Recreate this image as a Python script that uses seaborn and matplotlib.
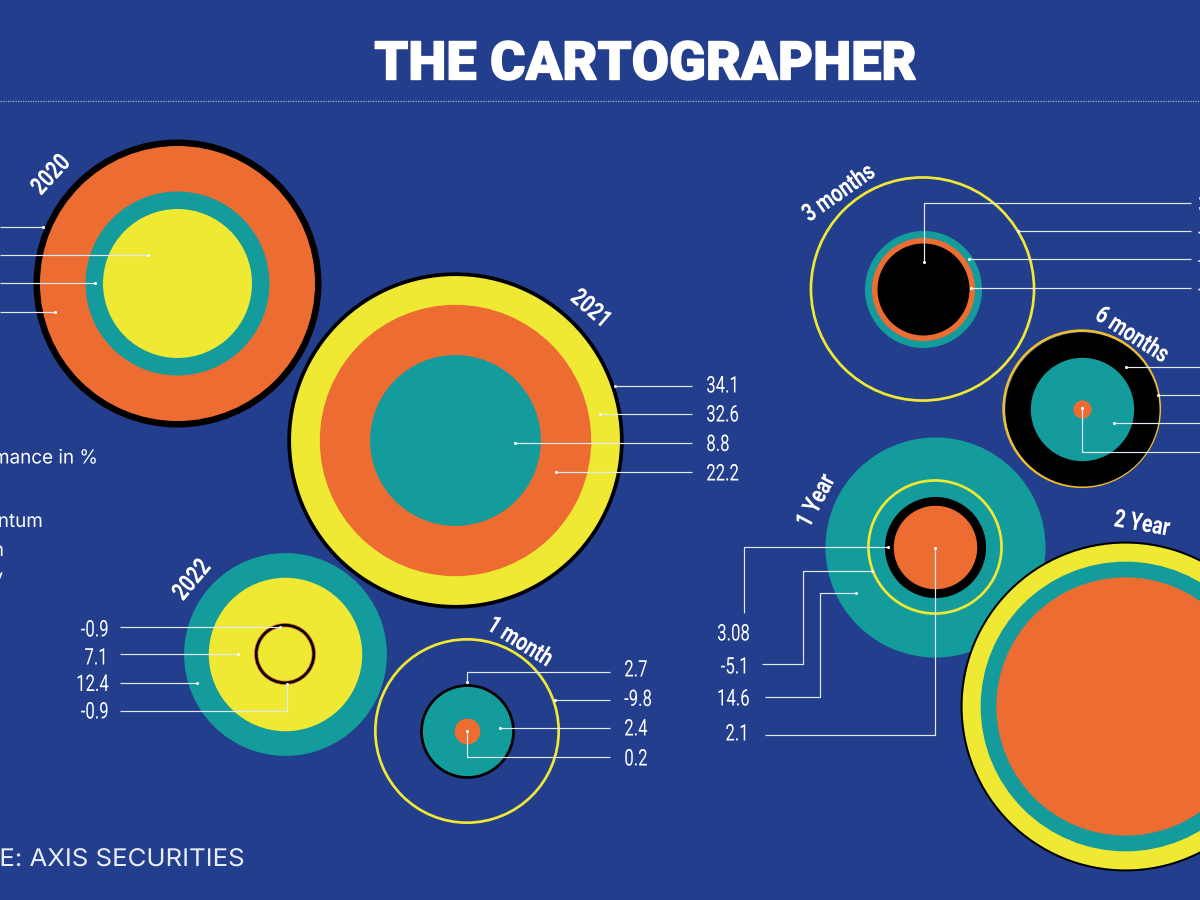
import numpy as np
import pandas as pd
import matplotlib
matplotlib.use("Agg")
import matplotlib.pyplot as plt
import seaborn as sns
from matplotlib.patheffects import AbstractPathEffect
from matplotlib.transforms import Affine2D

# ---- data -----------------------------------------------------------------
panel_names = ["2020", "2021", "2022", "1 month", "3 months", "6 months", "1 Year", "2 Year"]
# order in every list: black, yellow, teal, orange
values_2020 = [25.0, 6.69, 10.2, 22.8]
values_2021 = [34.1, 32.6, 8.8, 22.2]
values_2022 = [-0.9, 7.1, 12.4, -0.9]
values_1m = [2.7, -9.8, 2.4, 0.2]
values_3m = [2.55, -14.6, 4.13, 3.2]
values_6m = [7.15, -7.06, 3.22, 0.1]
values_1y = [3.08, -5.1, 14.6, 2.1]
values_2y = [32.8, 32.0, 25.3, 20.1]
labels_2021 = ["34.1", "32.6", "8.8", "22.2"]
labels_2022 = ["-0.9", "7.1", "12.4", "-0.9"]
labels_1m = ["2.7", "-9.8", "2.4", "0.2"]
labels_1y = ["3.08", "-5.1", "14.6", "2.1"]
labels_3m = ["3.8", "-4.1", "-4.2", "-3.2"]

BG = "#233E8C"
COL = dict(black="#000000", yellow="#EFE934", teal="#149B9B", orange="#EC6C32")
PX = 72 / 100  # points per pixel
K = 28.8  # pixels of radius per sqrt(value)
RING = 1.5  # hollow rings sit slightly outside their value


class Squeeze(AbstractPathEffect):
    """Draw text narrower (or wider) along its own baseline."""

    def __init__(self, factor, anchor="left", stroke=0.0):
        super().__init__()
        self.factor, self.anchor, self.stroke = factor, anchor, stroke

    def draw_path(self, renderer, gc, tpath, affine, rgbFace=None):
        box = tpath.get_extents()
        x0 = {"left": box.x0, "center": (box.x0 + box.x1) / 2, "right": box.x1}[self.anchor]
        pre = Affine2D().translate(-x0, 0).scale(self.factor, 1).translate(x0, 0)
        g = renderer.new_gc()
        g.copy_properties(gc)
        if self.stroke:
            g.set_linewidth(self.stroke)
            g.set_foreground(rgbFace)
        renderer.draw_path(g, tpath, pre + affine, rgbFace)
        g.restore()


sns.set_theme(style="white")

fig = plt.figure(figsize=(12, 9), dpi=100, facecolor=BG)
ax = fig.add_axes([0, 0, 1, 1], facecolor=BG)
ax.set_xlim(0, 1200)
ax.set_ylim(900, 0)
ax.axis("off")


def rings(cx, cy, values, hollow=(), ring_colour=None):
    order = ["orange", "yellow", "teal", "black"]
    df = pd.DataFrame({"v": values, "c": order})
    df = df.assign(r=K * np.sqrt(df.v.abs()) + np.where(df.v < 0, RING, 0))
    df = df.sort_values("r", ascending=False, kind="stable")
    for i, row in enumerate(df.itertuples()):
        s = (2 * row.r * PX) ** 2
        z = 2 + i * 0.1
        if row.c in hollow:
            lw = 4.2 if row.c == "orange" else 2.7
            colour = ring_colour or COL[row.c]
            sns.scatterplot(x=[cx], y=[cy], s=s, facecolor="none", edgecolor=colour,
                            linewidth=lw * PX, ax=ax, zorder=z, legend=False)
        else:
            sns.scatterplot(x=[cx], y=[cy], s=s, color=COL[row.c], linewidth=0,
                            ax=ax, zorder=z, legend=False)


def vals(black, yellow, teal, orange):
    return [orange, yellow, teal, black]


rings(177, 282.5, vals(*values_2020))
rings(455.3, 439.5, vals(*values_2021))
rings(285, 654, vals(*values_2022), hollow=("black", "orange"))
rings(467, 731, vals(*values_1m), hollow=("yellow",))
rings(922.5, 289, vals(*values_3m), hollow=("yellow",))
rings(1081.7, 408.7, vals(*values_6m), hollow=("yellow",), ring_colour="#EDBE2E")
rings(935, 547, vals(*values_1y), hollow=("yellow",))
rings(1125, 706, vals(*values_2y))

# dotted rule
ax.plot([0, 1200], [101, 101], color="#9FB0DA", lw=0.9, ls=(0, (1, 1)), zorder=1)


def leader(xs, ys):
    ax.plot(xs, ys, color="#E3E9F7", lw=0.85, zorder=6, solid_capstyle="butt")
    ax.plot(xs[-1], ys[-1], "o", color="white", ms=2.2, mew=0, zorder=7)


# 2020
for y, x in zip([226.7, 254.5, 283, 311.7], [43, 148, 95, 55]):
    leader([0, x], [y, y])
# 2021
for y, x in zip([386, 414, 443, 472], [615, 600, 515, 556]):
    leader([692, x], [y, y])
# 2022
leader([120, 280], [626.5, 626.5])
leader([120, 238], [654, 654])
leader([120, 197], [682.5, 682.5])
leader([120, 287, 287], [711, 711, 684])
# 1 month
leader([610, 467, 467], [672, 672, 682])
leader([610, 555], [700, 700])
leader([610, 500], [728.3, 728.3])
leader([610, 467, 467], [757, 757, 731])
# 3 months
leader([1191, 924, 924], [203.3, 203.3, 261.7])
leader([1191, 1018], [230.5, 230.5])
leader([1191, 969], [259.3, 259.3])
leader([1191, 971], [288, 288])
# 6 months
leader([1200, 1126], [367.3, 367.3])
leader([1200, 1158], [395, 395])
leader([1200, 1114], [423, 423])
leader([1200, 1081.7, 1081.7], [452.3, 452.3, 408])
# 1 year
leader([744.3, 744.3, 888], [613, 547.3, 547.3])
leader([762, 802.7, 802.7, 871.7], [664, 664, 570.7, 570.7])
leader([765, 820, 820, 855.7], [697, 697, 592.7, 592.7])
leader([765, 934.7, 934.7], [735, 735, 548.3])

FONT = ["Roboto", "DejaVu Sans"]
val_kw = dict(color="white", family=FONT, fontsize=16.5, va="center", zorder=8)
left = [Squeeze(0.73, "left")]
right = [Squeeze(0.73, "right")]
for t, y in zip(labels_2021, [386, 415, 444.5, 474]):
    ax.text(706, y, t, ha="left", path_effects=left, **val_kw)
for t, y in zip(labels_2022, [630, 658, 684.5, 712]):
    ax.text(109, y, t, ha="right", path_effects=right, **val_kw)
for t, y in zip(labels_1m, [670, 699.5, 729, 759]):
    ax.text(624, y, t, ha="left", path_effects=left, **val_kw)
for t, y in zip(labels_1y, [634, 667, 699, 734]):
    ax.text(750, y, t, ha="right", path_effects=right, **val_kw)
for t, y in zip(labels_3m, [205, 233, 261.5, 290]):
    ax.text(1198, y, t, ha="left", path_effects=left, **val_kw)

head_kw = dict(color="white", family=FONT, fontsize=18, fontweight="bold",
               ha="center", va="center", rotation_mode="anchor", zorder=8,
               path_effects=[Squeeze(0.78, "center")])
for name, x, y, rot in zip(panel_names,
                           [51, 591, 192, 520, 839, 1132, 816, 1142],
                           [175, 309, 580, 642, 193, 335, 501, 524],
                           [47, -41, 50, -32, 35, -33, 62, -10]):
    ax.text(x, y, name, rotation=rot, **head_kw)

ax.text(645.5, 65, "THE CARTOGRAPHER", color="white", family=FONT,
        fontweight=900, fontsize=38.5, ha="center", va="center", zorder=8,
        path_effects=[Squeeze(1.011, "center", stroke=1.0)])

side_kw = dict(color="white", family=["Inter", "DejaVu Sans"], fontsize=14, ha="right", va="center",
               zorder=8, path_effects=[Squeeze(0.97, "right")])
ax.text(98, 458.5, "Performance in %", **side_kw)
ax.text(43, 522, "Momentum", **side_kw)
ax.text(4, 551, "Return", **side_kw)
ax.text(3, 578, "Quality", **side_kw)
ax.text(244, 859.5, "SOURCE: AXIS SECURITIES", color="#E8EDF8", family=["Inter", "DejaVu Sans"],
        fontsize=17.5, ha="right", va="center", zorder=8, path_effects=[Squeeze(1.06, "right")])

fig.savefig("out.png", dpi=100, facecolor=BG)
